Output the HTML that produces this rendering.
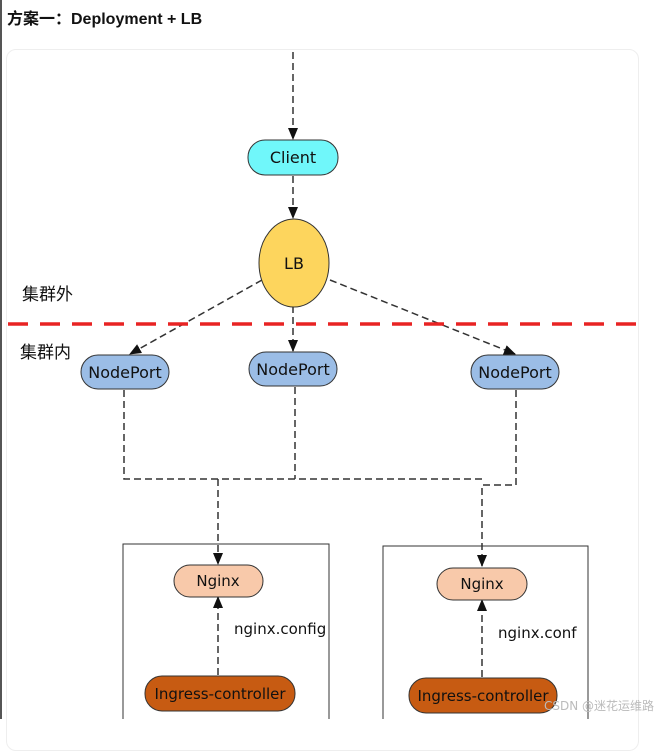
<!DOCTYPE html>
<html><head><meta charset="utf-8"><style>
body{margin:0;background:#fff;width:661px;height:719px;overflow:hidden;position:relative;font-family:"Liberation Sans","Noto Sans CJK SC",sans-serif}
</style></head><body>
<div style="position:absolute;left:0;top:0;width:2px;height:719px;background:#555"></div>
<div style="position:absolute;left:7px;top:5px;font-size:16px;font-weight:bold;color:#111">方案一：Deployment + LB</div>
<div style="position:absolute;left:6px;top:49px;width:631px;height:700px;border:1px solid #eee;border-radius:10px"></div>
<svg width="661" height="719" style="position:absolute;left:0;top:0" font-family="'DejaVu Sans','Noto Sans CJK SC',sans-serif">
<defs><marker id="a" markerWidth="14" markerHeight="14" refX="11" refY="5" orient="auto" markerUnits="userSpaceOnUse"><path d="M0,0 L12,5 L0,10 z" fill="#111"/></marker></defs>
<g stroke="#333" stroke-width="1.5" stroke-dasharray="7,4" fill="none">
<line x1="293" y1="52" x2="293" y2="139" marker-end="url(#a)"/>
<line x1="293" y1="176" x2="293" y2="218" marker-end="url(#a)"/>
<line x1="262" y1="280" x2="130" y2="354" marker-end="url(#a)"/>
<line x1="293" y1="306" x2="293" y2="351" marker-end="url(#a)"/>
<line x1="330" y1="280" x2="515" y2="354" marker-end="url(#a)"/>
<polyline points="124,390 124,479 482,479"/>
<line x1="295" y1="387" x2="295" y2="479"/>
<polyline points="516,390 516,485 482,485 482,566" marker-end="url(#a)"/>
<line x1="218" y1="479" x2="218" y2="564" marker-end="url(#a)"/>
<line x1="218" y1="675" x2="218" y2="597" marker-end="url(#a)"/>
<line x1="482" y1="677" x2="482" y2="600" marker-end="url(#a)"/>
</g>
<line x1="8" y1="324" x2="637" y2="324" stroke="#e82323" stroke-width="3.5" stroke-dasharray="20,12"/>
<rect x="248" y="140" width="90" height="35" rx="17" fill="#70f7fa" stroke="#333"/>
<text x="293" y="163" font-size="16" text-anchor="middle" fill="#111">Client</text>
<ellipse cx="294" cy="263" rx="35" ry="44" fill="#fdd55d" stroke="#333"/>
<text x="294" y="269" font-size="16" text-anchor="middle" fill="#111">LB</text>
<g fill="#9bbde6" stroke="#333">
<rect x="81" y="355" width="88" height="34" rx="17"/><rect x="249" y="352" width="88" height="34" rx="17"/><rect x="471" y="355" width="88" height="34" rx="17"/></g>
<g font-size="16" text-anchor="middle" fill="#111"><text x="125" y="378">NodePort</text><text x="293" y="375">NodePort</text><text x="515" y="378">NodePort</text></g>
<text x="22" y="300" font-size="17" fill="#111">集群外</text>
<text x="20" y="358" font-size="17" fill="#111">集群内</text>
<rect x="123" y="544" width="206" height="190" fill="none" stroke="#333"/>
<rect x="383" y="546" width="205" height="190" fill="none" stroke="#333"/>
<rect x="174" y="565" width="89" height="32" rx="16" fill="#f8c9aa" stroke="#333"/>
<rect x="437" y="568" width="90" height="32" rx="16" fill="#f8c9aa" stroke="#333"/>
<g font-size="15" text-anchor="middle" fill="#111"><text x="218" y="586">Nginx</text><text x="482" y="589">Nginx</text></g>
<rect x="145" y="676" width="150" height="35" rx="17" fill="#c75b12" stroke="#333"/>
<rect x="409" y="678" width="148" height="35" rx="17" fill="#c75b12" stroke="#333"/>
<g font-size="15" text-anchor="middle" fill="#111"><text x="220" y="699">Ingress-controller</text><text x="483" y="701">Ingress-controller</text></g>
<text x="234" y="634" font-size="15" fill="#111">nginx.config</text>
<text x="498" y="638" font-size="15" fill="#111">nginx.conf</text>
<text x="654" y="710" font-size="12" text-anchor="end" fill="#bbb">CSDN @迷花运维路</text>
</svg>
</body></html>
